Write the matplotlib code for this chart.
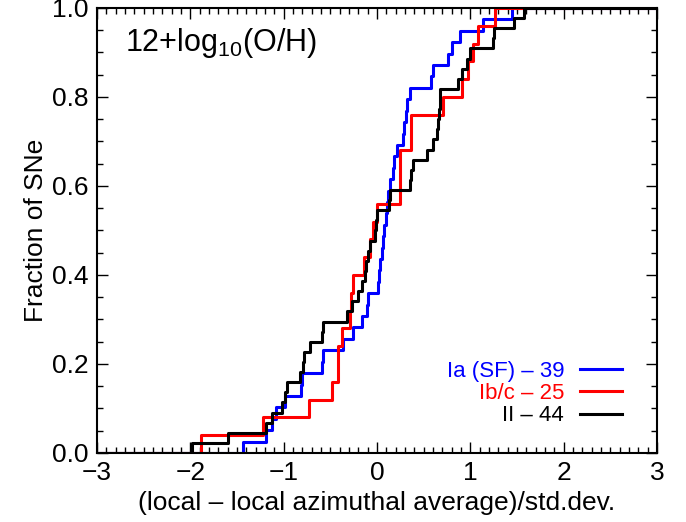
import numpy as np
import matplotlib.pyplot as plt
from matplotlib.ticker import MultipleLocator

plt.rcParams['font.family'] = ['Liberation Sans', 'DejaVu Sans']
plt.rcParams['mathtext.default'] = 'regular'

# --- DATA: sorted values ---
ia_vals = [-1.44, -1.19, -1.13, -1.08, -0.99, -0.81, -0.80, -0.59, -0.58, -0.36,
           -0.26, -0.16, -0.11, -0.10, 0.01, 0.02, 0.03, 0.05, 0.06, 0.08,
           0.10, 0.11, 0.12, 0.14, 0.17, 0.18, 0.21, 0.28, 0.29, 0.31,
           0.32, 0.35, 0.58, 0.60, 0.76, 0.80, 0.89, 1.14, 1.45]
ibc_vals = [-1.89, -1.22, -0.73, -0.48, -0.42, -0.42, -0.38, -0.29, -0.28, -0.26,
            -0.14, -0.08, -0.04, 0.00, 0.25, 0.25, 0.25, 0.36, 0.36, 0.71,
            0.91, 0.98, 1.03, 1.08, 1.26]
ii_vals = [-1.98, -1.60, -1.19, -1.13, -1.02, -0.99, -0.96, -0.83, -0.79, -0.78,
           -0.72, -0.59, -0.58, -0.32, -0.27, -0.20, -0.16, -0.13, -0.12, -0.10,
           -0.07, -0.02, -0.01, -0.005, 0.13, 0.135, 0.35, 0.36, 0.39, 0.54,
           0.60, 0.64, 0.65, 0.66, 0.67, 0.68, 0.87, 0.91, 0.96, 1.00,
           1.24, 1.25, 1.47, 1.57]

series = [ia_vals, ibc_vals, ii_vals]
labels = ['Ia (SF) \u2013 39', 'Ib/c \u2013 25', 'II \u2013 44']
colors = ['#0000ff', '#ff0000', '#000000']

x_min, x_max = -3, 3

fig = plt.figure(figsize=(6.86, 5.22), dpi=100)
ax = fig.add_axes([0.1414, 0.1322, 0.8163, 0.8525])

handles = []
for vals, lab, col in zip(series, labels, colors):
    n = len(vals)
    xs = np.concatenate([[x_min], np.sort(vals), [x_max]])
    ys = np.concatenate([[0], np.arange(1, n + 1) / n, [1]])
    h, = ax.step(xs, ys, where='post', color=col, lw=2.2, label=lab)
    handles.append(h)

ax.set_xlim(x_min, x_max)
ax.set_ylim(0, 1)
ax.xaxis.set_major_locator(MultipleLocator(1))
ax.xaxis.set_minor_locator(MultipleLocator(0.1))
ax.yaxis.set_major_locator(MultipleLocator(0.2))
ax.yaxis.set_minor_locator(MultipleLocator(0.05))
ax.yaxis.set_major_formatter(plt.FormatStrFormatter('%.1f'))
ax.tick_params(which='both', direction='in', top=True, right=True, width=1)
ax.tick_params(which='major', length=8, labelsize=19, pad=6)
ax.tick_params(which='minor', length=4)
for s in ax.spines.values():
    s.set_linewidth(1.5)

ax.set_xlabel('(local \u2013 local azimuthal average)/std.dev.', fontsize=19, labelpad=4)
ax.set_ylabel('Fraction of SNe', fontsize=19, labelpad=3)

ax.text(0.05, 0.96, r'12+log$_{10}$(O/H)', transform=ax.transAxes,
        va='top', ha='left', fontsize=22)

leg = ax.legend(handles=handles, loc='lower right', bbox_to_anchor=(0.9375, 0.06),
                frameon=False, markerfirst=False, labelcolor='linecolor',
                fontsize=16, handlelength=1.9, handletextpad=0.7,
                labelspacing=0.05, borderpad=0, borderaxespad=0)

fig.savefig('out.png', dpi=100)
